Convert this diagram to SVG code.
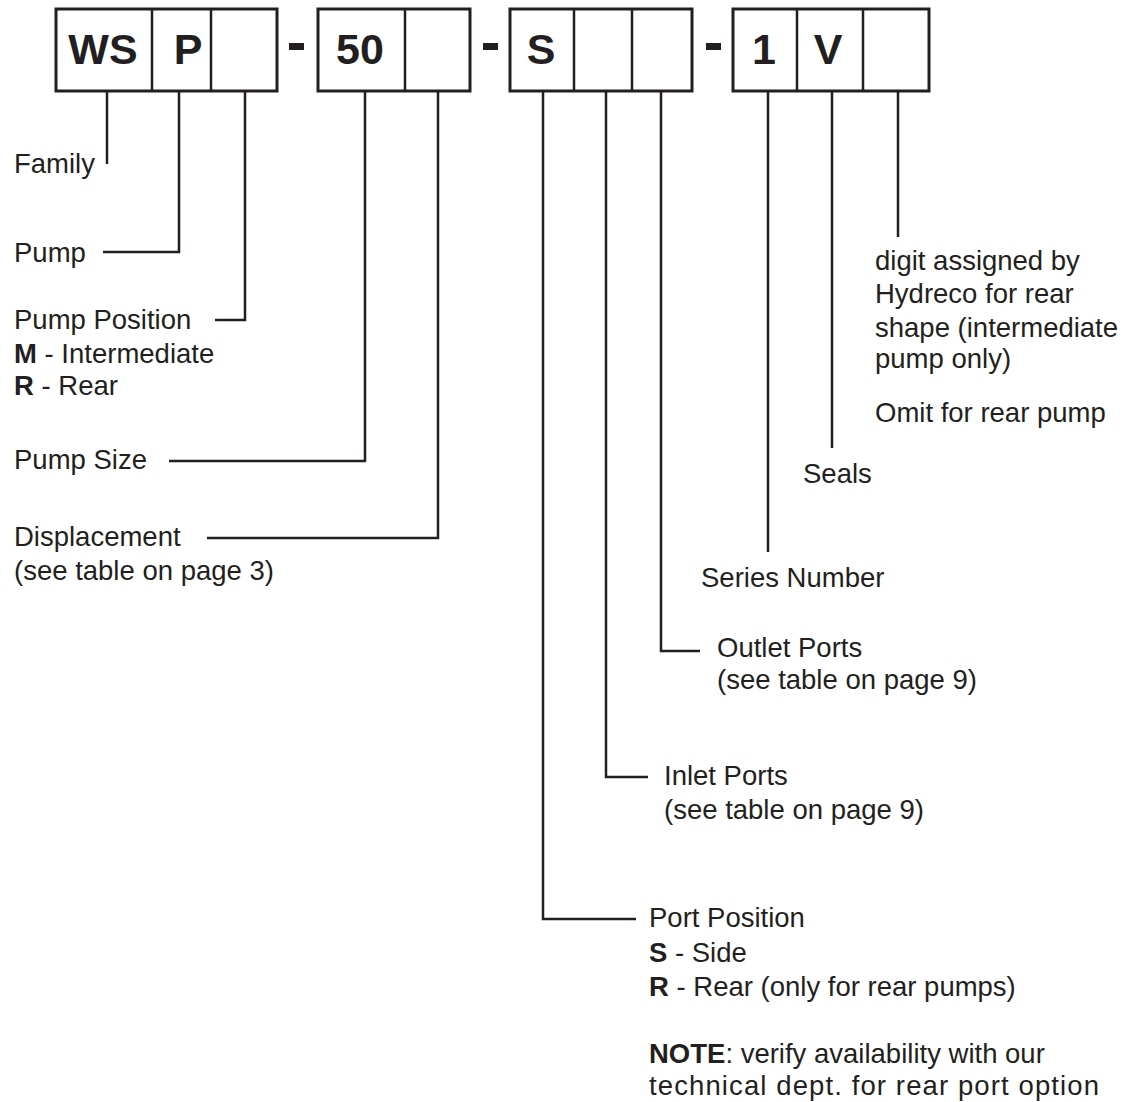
<svg xmlns="http://www.w3.org/2000/svg" width="1132" height="1102" viewBox="0 0 1132 1102">
<style>
.box{fill:#fff;stroke:#231f20;stroke-width:3}
.div{stroke:#231f20;stroke-width:2.5}
.dash{fill:#231f20}
.code{font-family:"Liberation Sans",Arial,sans-serif;font-weight:bold;font-size:43px;fill:#231f20;text-anchor:middle}
.lbl{font-family:"Liberation Sans",Arial,sans-serif;font-size:27.5px;fill:#231f20}
.b{font-weight:bold}
.con{fill:none;stroke:#231f20;stroke-width:2.5}
</style>
<rect width="1132" height="1102" fill="#fff"/>
<g id="code">
  <g id="group1">
    <rect class="box" x="56" y="9" width="221" height="82"/>
    <line class="div" x1="152" y1="9" x2="152" y2="91"/>
    <line class="div" x1="211" y1="9" x2="211" y2="91"/>
    <text class="code" x="103" y="64">WS</text>
    <text class="code" x="188" y="64">P</text>
  </g>
  <rect id="dash1" class="dash" x="289" y="43" width="15" height="7"/>
  <g id="group2">
    <rect class="box" x="318" y="9" width="152" height="82"/>
    <line class="div" x1="405" y1="9" x2="405" y2="91"/>
    <text class="code" x="360" y="64">50</text>
  </g>
  <rect id="dash2" class="dash" x="483" y="43" width="15" height="7"/>
  <g id="group3">
    <rect class="box" x="510" y="9" width="182" height="82"/>
    <line class="div" x1="574" y1="9" x2="574" y2="91"/>
    <line class="div" x1="632" y1="9" x2="632" y2="91"/>
    <text class="code" x="541" y="64">S</text>
  </g>
  <rect id="dash3" class="dash" x="706" y="43" width="15" height="7"/>
  <g id="group4">
    <rect class="box" x="733" y="9" width="196" height="82"/>
    <line class="div" x1="797" y1="9" x2="797" y2="91"/>
    <line class="div" x1="863" y1="9" x2="863" y2="91"/>
    <text class="code" x="764" y="64">1</text>
    <text class="code" x="828" y="64">V</text>
  </g>
</g>
<g id="connectors">
  <path class="con" d="M107 91V164"/>
  <path class="con" d="M179 91V252H103"/>
  <path class="con" d="M245 91V320H215"/>
  <path class="con" d="M365 91V461H169"/>
  <path class="con" d="M438 91V538H207"/>
  <path class="con" d="M543 91V919H636"/>
  <path class="con" d="M606 91V777H648"/>
  <path class="con" d="M661 91V651H700"/>
  <path class="con" d="M768 91V552"/>
  <path class="con" d="M832 91V448"/>
  <path class="con" d="M898 91V237"/>
</g>
<g id="label-family"><text class="lbl" x="14" y="173">Family</text></g>
<g id="label-pump"><text class="lbl" x="14" y="262">Pump</text></g>
<g id="label-pump-position">
  <text class="lbl" x="14" y="329">Pump Position</text>
  <text class="lbl" x="14" y="363"><tspan class="b">M</tspan> - Intermediate</text>
  <text class="lbl" x="14" y="395"><tspan class="b">R</tspan> - Rear</text>
</g>
<g id="label-pump-size"><text class="lbl" x="14" y="469">Pump Size</text></g>
<g id="label-displacement">
  <text class="lbl" x="14" y="546">Displacement</text>
  <text class="lbl" x="14" y="580">(see table on page 3)</text>
</g>
<g id="label-digit">
  <text class="lbl" x="875" y="270">digit assigned by</text>
  <text class="lbl" x="875" y="303">Hydreco for rear</text>
  <text class="lbl" x="875" y="337">shape (intermediate</text>
  <text class="lbl" x="875" y="368">pump only)</text>
  <text class="lbl" x="875" y="422">Omit for rear pump</text>
</g>
<g id="label-seals"><text class="lbl" x="803" y="483">Seals</text></g>
<g id="label-series"><text class="lbl" x="701" y="587">Series Number</text></g>
<g id="label-outlet">
  <text class="lbl" x="717" y="657">Outlet Ports</text>
  <text class="lbl" x="717" y="689">(see table on page 9)</text>
</g>
<g id="label-inlet">
  <text class="lbl" x="664" y="785">Inlet Ports</text>
  <text class="lbl" x="664" y="819">(see table on page 9)</text>
</g>
<g id="label-port-position">
  <text class="lbl" x="649" y="927">Port Position</text>
  <text class="lbl" x="649" y="962"><tspan class="b">S</tspan> - Side</text>
  <text class="lbl" x="649" y="996"><tspan class="b">R</tspan> - Rear (only for rear pumps)</text>
  <text class="lbl" x="649" y="1063"><tspan class="b">NOTE</tspan>: verify availability with our</text>
  <text class="lbl" x="649" y="1095" textLength="450" lengthAdjust="spacing">technical dept. for rear port option</text>
</g>
</svg>
